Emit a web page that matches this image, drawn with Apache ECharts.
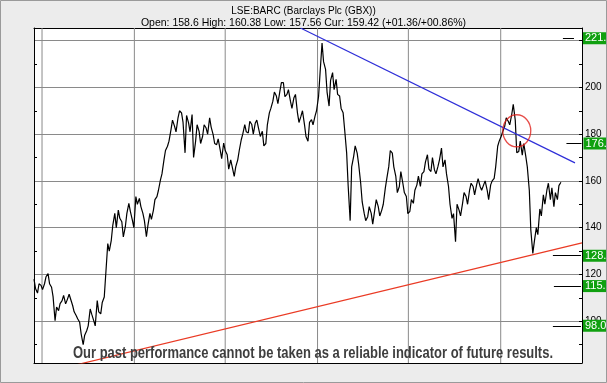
<!DOCTYPE html>
<html><head><meta charset="utf-8">
<script src="https://cdn.jsdelivr.net/npm/echarts@6/dist/echarts.min.js"></script>
<style>html,body{margin:0;padding:0;background:#fff}#c{width:607px;height:383px}</style>
</head><body><div id="c"></div>
<script>
// ---- data ----
// weekly sample dates (Mondays); a second reading is taken mid-week (Thursday) for each week
const weekDates = [
'2020-06-15','2020-06-22','2020-06-29','2020-07-06','2020-07-13','2020-07-20','2020-07-27','2020-08-03','2020-08-10','2020-08-17',
'2020-08-24','2020-08-31','2020-09-07','2020-09-14','2020-09-21','2020-09-28','2020-10-05','2020-10-12','2020-10-19','2020-10-26',
'2020-11-02','2020-11-09','2020-11-16','2020-11-23','2020-11-30','2020-12-07','2020-12-14','2020-12-21','2020-12-28','2021-01-04',
'2021-01-11','2021-01-18','2021-01-25','2021-02-01','2021-02-08','2021-02-15','2021-02-22','2021-03-01','2021-03-08','2021-03-15',
'2021-03-22','2021-03-29','2021-04-05','2021-04-12','2021-04-19','2021-04-26','2021-05-03','2021-05-10','2021-05-17','2021-05-24',
'2021-05-31','2021-06-07','2021-06-14','2021-06-21','2021-06-28','2021-07-05','2021-07-12','2021-07-19','2021-07-26','2021-08-02',
'2021-08-09','2021-08-16','2021-08-23','2021-08-30','2021-09-06','2021-09-13','2021-09-20','2021-09-27','2021-10-04','2021-10-11',
'2021-10-18','2021-10-25','2021-11-01','2021-11-08','2021-11-15','2021-11-22','2021-11-29','2021-12-06','2021-12-13','2021-12-20',
'2021-12-27','2022-01-03','2022-01-10','2022-01-17','2022-01-24','2022-01-31','2022-02-07','2022-02-14','2022-02-21','2022-02-28',
'2022-03-07','2022-03-14','2022-03-21','2022-03-28','2022-04-04','2022-04-11','2022-04-18','2022-04-25','2022-05-02','2022-05-09',
'2022-05-16','2022-05-23','2022-05-30','2022-06-06','2022-06-13','2022-06-20','2022-06-27','2022-07-04','2022-07-11','2022-07-18',
'2022-07-25','2022-08-01','2022-08-08','2022-08-15','2022-08-22','2022-08-29','2022-09-05','2022-09-12','2022-09-19','2022-09-26',
'2022-10-03','2022-10-10','2022-10-17','2022-10-24','2022-10-31','2022-11-07','2022-11-14','2022-11-21','2022-11-28','2022-12-05',
'2022-12-12','2022-12-19','2022-12-26','2023-01-02','2023-01-09','2023-01-16','2023-01-23','2023-01-30','2023-02-06','2023-02-13',
'2023-02-20','2023-02-27','2023-03-06','2023-03-13','2023-03-20','2023-03-27','2023-04-03','2023-04-10','2023-04-17','2023-04-24',
'2023-05-01'];
const mondayPrices = [
118,112,115.3,116,120.3,114.5,100.2,104.5,108.8,107.4,
111.5,106.7,102.4,99.5,90,95.9,105.2,100.2,108.8,103.1,
110.3,133.2,134.6,146.1,147.5,142.5,140.4,150.4,143.2,153.3,
152.5,146.1,136.1,146.1,147.5,153.3,160.4,169,174.8,181.9,
183.4,187,189.1,172,184.8,188.4,176.9,181.2,179.1,182.6,
187,179.8,175.5,173.3,176.2,171.2,169,161.9,169,177.6,
184.1,180.5,184.1,184.8,181.9,181.2,176,189.1,194.1,196.3,
198.4,202,197,194.1,195.6,189.1,187.7,184.1,177,186.2,
187.7,196,219,207.7,192,206.3,203.4,196.3,189.1,172,
143,170.5,171.9,159,146.1,144.7,146.1,147.5,149,147.5,
156.8,166.2,171.9,161.9,157.6,159,153.3,147,150.4,158.3,
157.6,164,171.2,164,164.7,166.2,174,169,157.6,144,
134,147.5,150.4,153.3,156.1,157.6,158.3,157.6,158.3,156.1,
158.3,161.1,174.8,179.1,183.4,185.5,188.4,186,172.6,171,
170.5,156,129,140,148,154,156,152,149,152,
159.4];
const thursdayPrices = [
114,116,113.5,119,116,110.5,106,107.5,111,109,
112,104,101,94.5,94,98,103,98,104,108,
110,130,141,140,144,136,146,147,140,150,
149,143,141,143.5,152,156,163,173,177,186,
181,190,185,188,181,170,184,176,184,180,
183,176,178,169.5,173,165,166,166,173,180,
181,185.5,180,186,179,175,184,191,198,193,
202,196,199,191,197,185,190,179,185,184,
190,206,211,198,203,199,197,191,182,158,
166,175,167,151,143,149,141.5,152,145,150,
161,173,166,155,164,155,146,152,156,162,
163,168,165,170,163,169,166,163,150,146,
150,145,155,150,159,154,161,156,160,152,
160,166,177,181,187,184,192.7,172,177,176,
166,139,134,137,145,150,159,157,155,158];
const xGridDates = ['2020-07-01','2021-01-01','2021-07-01','2022-01-01','2022-07-01','2023-01-01'];
const xGridLabels = ['','Jan 21','Jul 21','Jan 22','Jul 22','Jan 23'];
const yGridValues = [100,120,140,160,180,200,220];
const yRightTicks = [90,100,110,120,130,140,150,160,170,180,190,200,210,220];
const yLeftTicks = [90,110,130,150,170,190,210];
const blueTrendDates = ['2021-11-28','2023-05-29'];
const blueTrendValues = [225.4,167.7];
const redTrendDates = ['2020-09-09','2023-06-12'];
const redTrendValues = [81.4,133.5];
const targetValues = [221,176,128,115,98];
const targetLabels = ['221.','176.','128.','115.','98.0'];
const targetFrom = ['2023-05-05','2023-05-12','2023-04-15','2023-04-17','2023-04-15'];
const targetTo = ['2023-05-27','2023-06-11','2023-06-10','2023-06-10','2023-06-10'];
const currentValue = 159.42, currentLabel = '159.';
const circleDate = '2023-02-02', circleValue = 181.4;
const titleText = 'LSE:BARC (Barclays Plc (GBX))';
const subText = 'Open: 158.6 High: 160.38 Low: 157.56 Cur: 159.42 (+01.36/+00.86%)';
const disclaimer = 'Our past performance cannot be taken as a reliable indicator of future results.';

// ---- build the price table (Monday reading, then Thursday reading) ----
const DAY = 86400000;
const ts = d => new Date(d + 'T00:00:00').getTime();
const priceData = [];
weekDates.forEach((d, i) => {
  const t = ts(d);
  priceData.push([t, mondayPrices[i]]);
  if (i < thursdayPrices.length) priceData.push([t + 3 * DAY, thursdayPrices[i]]);
});

// ---- chart ----
const FONT = '"Liberation Sans", Arial, sans-serif';
const chart = echarts.init(document.getElementById('c'), null, {renderer:'canvas'});
const cv = document.createElement('canvas').getContext('2d');
cv.font = 'bold 16px "Liberation Sans"';
const dw = cv.measureText(disclaimer).width;
const YMIN = 82.1, YMAX = 225.4;
const XMIN = ts('2020-06-15'), XMAX = ts('2023-06-12');
const GRIDCOL = '#8a8a8a';
const FRAME = '#ececec';
const G = {left: 34, top: 28, width: 548, height: 335};
const W = 607, H = 383;

const xGridSeries = xGridDates.map(d => ({type: 'line', z: 9, showSymbol: false,
  data: [[ts(d), YMIN], [ts(d), YMAX]], lineStyle: {color: GRIDCOL, width: 1}}));

const option = {
  backgroundColor: '#fff',
  animation: false,
  title: [
    {text: titleText, left: 'center', top: 1, z: 20, textStyle: {fontSize: 10, fontWeight: 'normal', color: '#000', fontFamily: FONT}},
    {text: subText, left: 'center', top: 13, z: 20, textStyle: {fontSize: 10.5, fontWeight: 'normal', color: '#000', fontFamily: FONT}}
  ],
  grid: {left: G.left, top: G.top, width: G.width, height: G.height, show: false, containLabel: false},
  xAxis: [
    {type: 'time', min: XMIN, max: XMAX, position: 'bottom',
     axisLine: {show: true, onZero: false, lineStyle: {color: '#000'}},
     axisTick: {show: false}, axisLabel: {show: false}, splitLine: {show: false}},
    {type: 'time', min: XMIN, max: XMAX, position: 'top',
     axisLine: {show: true, onZero: false, lineStyle: {color: '#000'}}, axisTick: {show: false}, axisLabel: {show: false}, splitLine: {show: false}}
  ],
  yAxis: [
    {type: 'value', position: 'right', min: YMIN, max: YMAX,
     axisLine: {show: true, lineStyle: {color: '#000'}},
     axisTick: {show: true, inside: true, length: 3, customValues: yRightTicks, lineStyle: {color: '#000'}},
     axisLabel: {show: true, customValues: yGridValues, margin: 3, fontSize: 10, color: '#000', fontFamily: FONT},
     splitLine: {show: false}},
    {type: 'value', position: 'left', min: YMIN, max: YMAX,
     axisLine: {show: true, lineStyle: {color: '#000'}},
     axisTick: {show: true, inside: true, length: 3, customValues: yLeftTicks, lineStyle: {color: '#000'}},
     axisLabel: {show: false}, splitLine: {show: false}},
    {type: 'value', position: 'right', min: YMIN, max: YMAX,
     axisLine: {show: false}, axisTick: {show: false, customValues: yGridValues},
     axisLabel: {show: false},
     splitLine: {show: true, lineStyle: {color: GRIDCOL, width: 1, type: 'solid'}}}
  ],
  graphic: [
    // grey frame around the white plot area
    {type: 'rect', z: -100, silent: true, shape: {x: 0, y: 0, width: W, height: G.top}, style: {fill: FRAME}},
    {type: 'rect', z: -100, silent: true, shape: {x: 0, y: G.top + G.height, width: W, height: H - G.top - G.height}, style: {fill: FRAME}},
    {type: 'rect', z: -100, silent: true, shape: {x: 0, y: 0, width: G.left, height: H}, style: {fill: FRAME}},
    {type: 'rect', z: -100, silent: true, shape: {x: G.left + G.width, y: 0, width: W - G.left - G.width, height: H}, style: {fill: FRAME}},
    {type: 'rect', shape: {x: 0.5, y: 0.5, width: 606, height: 382}, style: {fill: 'none', stroke: '#9a9a9a', lineWidth: 1}, silent: true, z: 100},
    {type: 'text', x: 313, y: 354, scaleX: 480 / dw, scaleY: 1, z: 50,
     style: {text: disclaimer, font: 'bold 16px "Liberation Sans"', fill: '#3e3e3e', align: 'center', verticalAlign: 'middle'}}
  ],
  series: xGridSeries.concat([
    {type: 'line', name: 'xlabels', data: [], silent: true, z: 10,
     markLine: {silent: true, symbol: ['none','none'], z: 10, animation: false,
       lineStyle: {opacity: 0},
       data: xGridDates.map((d, i) => ({
         xAxis: ts(d),
         label: {show: xGridLabels[i] !== '', position: 'start', formatter: xGridLabels[i], distance: 3, fontSize: 10, color: '#000', fontFamily: FONT}
       }))}},
    {type: 'line', name: 'price', z: 11, data: priceData, showSymbol: false,
     lineStyle: {color: '#000', width: 1.2}},
    {type: 'line', name: 'blue', z: 12, data: blueTrendDates.map((d, i) => [ts(d), blueTrendValues[i]]), showSymbol: false,
     lineStyle: {color: '#2f2fd8', width: 1.2}},
    {type: 'line', name: 'red', z: 12, data: redTrendDates.map((d, i) => [ts(d), redTrendValues[i]]), showSymbol: false,
     lineStyle: {color: '#ea3a24', width: 1.2}},
    {type: 'scatter', name: 'circle', z: 13, data: [[ts(circleDate), circleValue]], symbol: 'circle', symbolSize: [28, 32],
     itemStyle: {color: 'rgba(0,0,0,0)', borderColor: '#e0201c', borderWidth: 1.4}},
    {type: 'line', name: 'targets', data: [], silent: true, z: 14,
     markLine: {silent: true, symbol: ['none','none'], z: 14, animation: false,
       lineStyle: {color: '#000', width: 1, type: 'solid'},
       data: targetValues.map((v, i) => [
         {coord: [ts(targetFrom[i]), v], label: {show: true, position: 'end', formatter: targetLabels[i], distance: i === 0 ? 9 : 2,
           backgroundColor: '#10a010', color: '#fff', fontSize: 11, fontFamily: FONT, padding: [1, 8, 0, 2]}},
         {coord: [ts(targetTo[i]), v]}
       ]).concat([[
         {coord: [ts('2023-06-01'), currentValue], lineStyle: {opacity: 0},
          label: {show: true, position: 'end', formatter: currentLabel, distance: 2,
           backgroundColor: '#000', color: '#fff', fontSize: 11, fontFamily: FONT, padding: [1, 8, 0, 2]}},
         {coord: [ts('2023-06-11'), currentValue]}
       ]])}}
  ])
};
chart.setOption(option);
</script></body></html>
